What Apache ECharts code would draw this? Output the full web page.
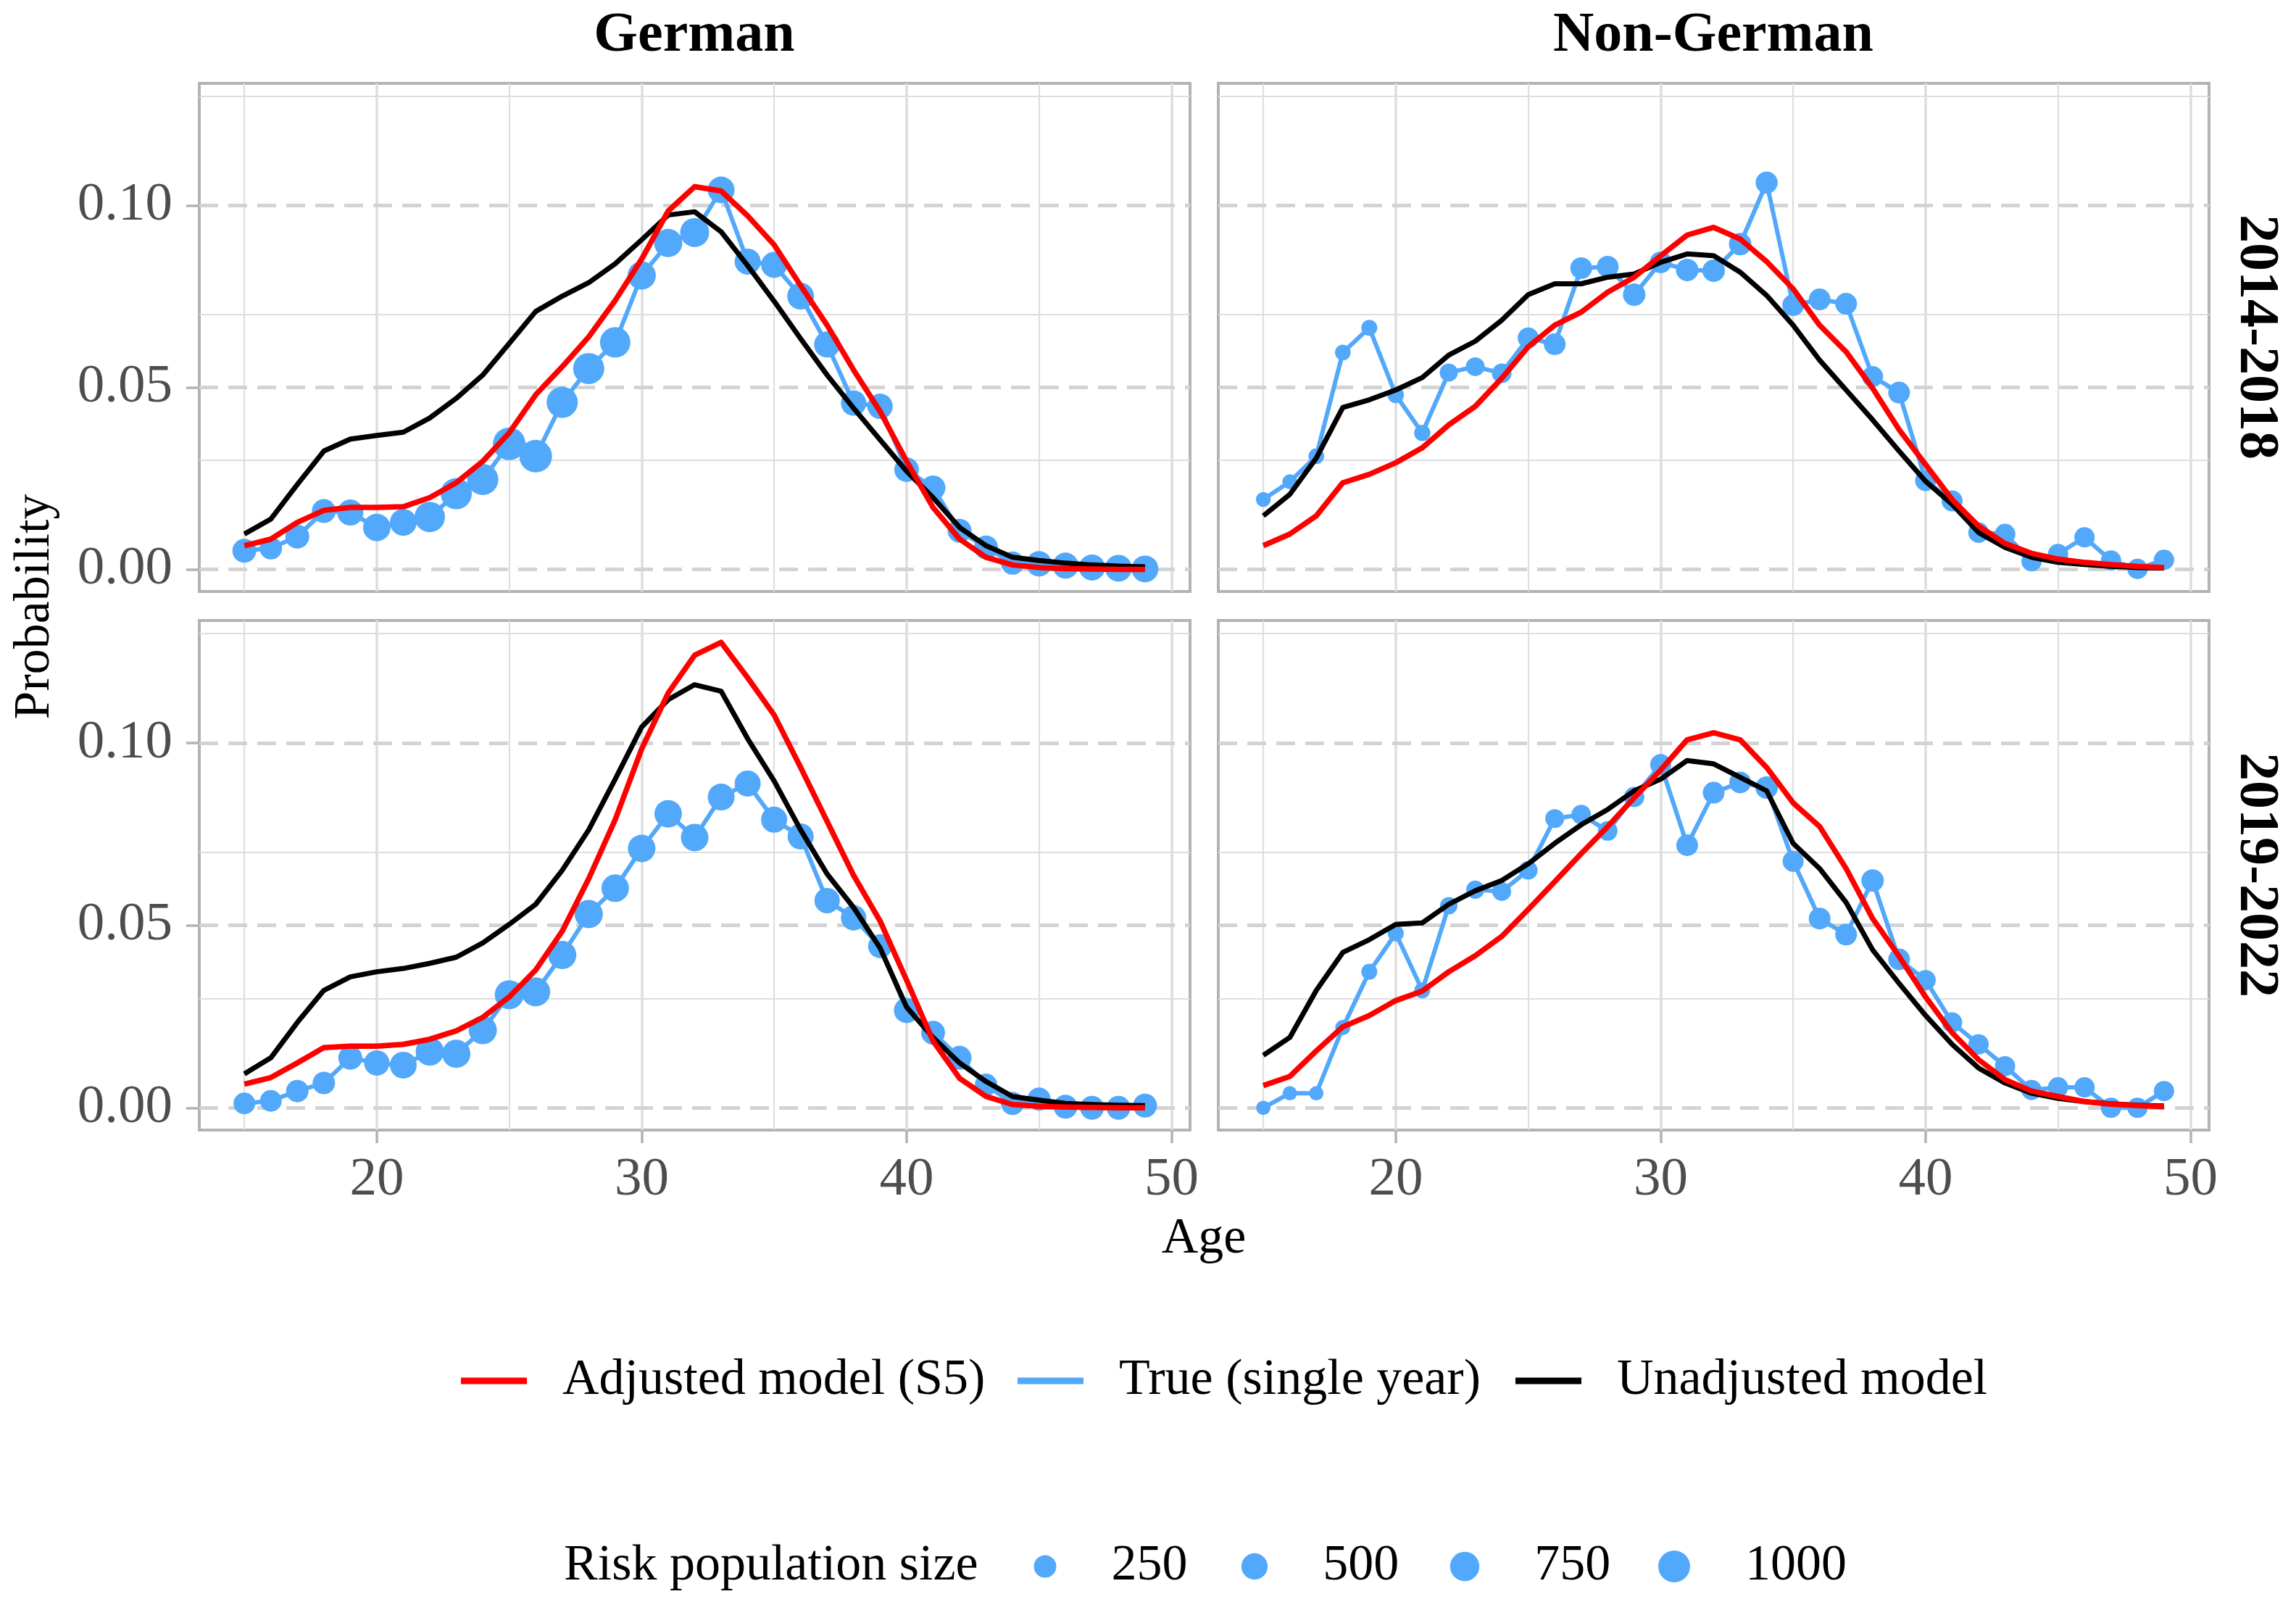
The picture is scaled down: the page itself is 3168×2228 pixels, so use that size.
<!DOCTYPE html>
<html><head><meta charset="utf-8">
<script src="https://cdn.jsdelivr.net/npm/echarts@6/dist/echarts.min.js"></script>
<style>html,body{margin:0;padding:0;background:#fff}#c{width:3168px;height:2228px}</style>
</head><body><div id="c"></div>
<script>
// ---------------- data ----------------
const ages = [15,16,17,18,19,20,21,22,23,24,25,26,27,28,29,30,31,32,33,34,35,36,37,38,39,40,41,42,43,44,45,46,47,48,49];

// German, 2014-2018
const g1True  = [0.0051,0.0058,0.0090,0.0160,0.0156,0.0115,0.0129,0.0144,0.0208,0.0247,0.0345,0.0311,0.0459,0.0552,0.0624,0.0808,0.0897,0.0926,0.1043,0.0846,0.0837,0.0751,0.0618,0.0457,0.0448,0.0274,0.0224,0.0106,0.0060,0.0017,0.0015,0.0010,0.0005,0.0003,0.0001];
const g1Adj   = [0.0065,0.0083,0.0129,0.0162,0.0170,0.0170,0.0172,0.0197,0.0238,0.0297,0.0375,0.0480,0.0557,0.0639,0.0739,0.0853,0.0985,0.1052,0.1040,0.0972,0.0892,0.0780,0.0671,0.0548,0.0434,0.0297,0.0170,0.0083,0.0033,0.0012,0.0005,0.0002,0.0001,0.0000,0.0000];
const g1Unadj = [0.0097,0.0138,0.0233,0.0325,0.0358,0.0368,0.0377,0.0416,0.0470,0.0534,0.0621,0.0709,0.0751,0.0788,0.0840,0.0906,0.0974,0.0983,0.0928,0.0835,0.0737,0.0634,0.0534,0.0443,0.0356,0.0270,0.0197,0.0115,0.0065,0.0033,0.0024,0.0017,0.0012,0.0009,0.0007];
const g1Pop   = [335,251,335,335,482,595,537,857,929,929,1084,1084,929,929,857,656,656,720,537,482,482,537,482,430,430,381,381,335,335,291,430,482,482,537,537];

// Non-German, 2014-2018
const n1True  = [0.0192,0.0241,0.0311,0.0596,0.0664,0.0479,0.0375,0.0541,0.0557,0.0539,0.0636,0.0619,0.0828,0.0832,0.0755,0.0844,0.0823,0.0821,0.0894,0.1063,0.0726,0.0742,0.0730,0.0530,0.0486,0.0244,0.0188,0.0101,0.0097,0.0022,0.0042,0.0088,0.0024,0.0001,0.0026];
const n1Adj   = [0.0065,0.0097,0.0147,0.0238,0.0261,0.0293,0.0334,0.0397,0.0448,0.0525,0.0612,0.0671,0.0707,0.0762,0.0803,0.0862,0.0919,0.0940,0.0908,0.0846,0.0771,0.0671,0.0598,0.0498,0.0384,0.0288,0.0192,0.0119,0.0071,0.0044,0.0028,0.0019,0.0013,0.0008,0.0005];
const n1Unadj = [0.0147,0.0206,0.0306,0.0445,0.0466,0.0493,0.0527,0.0589,0.0627,0.0685,0.0755,0.0785,0.0785,0.0803,0.0812,0.0844,0.0867,0.0862,0.0817,0.0753,0.0671,0.0575,0.0493,0.0411,0.0325,0.0242,0.0179,0.0101,0.0060,0.0033,0.0019,0.0013,0.0008,0.0005,0.0004];
const n1Pop   = [10,10,20,20,25,30,30,73,95,120,180,214,214,214,251,214,250,250,250,230,214,214,214,180,214,180,180,160,160,150,150,150,150,150,150];

// German, 2019-2022
const g2True  = [0.0012,0.0019,0.0046,0.0068,0.0137,0.0123,0.0117,0.0154,0.0148,0.0213,0.0310,0.0318,0.0419,0.0531,0.0602,0.0711,0.0806,0.0741,0.0852,0.0889,0.0790,0.0744,0.0568,0.0521,0.0443,0.0267,0.0206,0.0137,0.0063,0.0012,0.0024,0.0003,0.0000,0.0000,0.0006];
const g2Adj   = [0.0065,0.0083,0.0123,0.0165,0.0169,0.0169,0.0174,0.0188,0.0211,0.0248,0.0304,0.0378,0.0484,0.0628,0.0790,0.0984,0.1137,0.1241,0.1276,0.1179,0.1077,0.0933,0.0785,0.0637,0.0512,0.0350,0.0183,0.0081,0.0031,0.0009,0.0004,0.0002,0.0001,0.0000,0.0000];
const g2Unadj = [0.0093,0.0137,0.0234,0.0322,0.0359,0.0373,0.0382,0.0396,0.0413,0.0452,0.0503,0.0558,0.0651,0.0762,0.0901,0.1044,0.1119,0.1160,0.1142,0.1012,0.0896,0.0762,0.0641,0.0549,0.0438,0.0276,0.0193,0.0123,0.0072,0.0031,0.0021,0.0012,0.0009,0.0007,0.0006];
const g2Pop   = [214,214,251,251,335,430,537,656,656,656,720,720,656,656,595,595,595,595,537,482,482,482,430,430,335,430,335,335,251,291,291,335,335,335,335];

// Non-German, 2019-2022
const n2True  = [0.0000,0.0040,0.0040,0.0220,0.0373,0.0478,0.0322,0.0554,0.0598,0.0593,0.0651,0.0793,0.0804,0.0759,0.0852,0.0941,0.0720,0.0864,0.0892,0.0878,0.0676,0.0519,0.0475,0.0623,0.0407,0.0350,0.0234,0.0174,0.0114,0.0049,0.0056,0.0056,0.0000,0.0000,0.0046];
const n2Adj   = [0.0061,0.0086,0.0156,0.0222,0.0253,0.0294,0.0320,0.0373,0.0417,0.0470,0.0544,0.0620,0.0697,0.0771,0.0850,0.0926,0.1009,0.1028,0.1009,0.0933,0.0836,0.0771,0.0656,0.0519,0.0415,0.0304,0.0206,0.0132,0.0077,0.0046,0.0031,0.0017,0.0010,0.0006,0.0003];
const n2Unadj = [0.0144,0.0193,0.0322,0.0426,0.0461,0.0503,0.0507,0.0558,0.0595,0.0623,0.0669,0.0725,0.0776,0.0818,0.0869,0.0901,0.0952,0.0943,0.0906,0.0869,0.0725,0.0656,0.0563,0.0433,0.0341,0.0253,0.0174,0.0109,0.0068,0.0040,0.0026,0.0017,0.0011,0.0007,0.0005];
const n2Pop   = [5,5,5,13,24,24,24,54,73,95,90,100,120,120,149,180,214,214,214,251,180,214,214,251,214,149,149,149,149,149,149,149,149,149,149];

// ticks / labels
const xMajor = [20,30,40,50];
const xMinor = [15,25,35,45];
const yMajor = [0,0.05,0.10];
const yMinor = [0.025,0.075,0.125];
const colNames = ['German','Non-German'];
const rowNames = ['2014-2018','2019-2022'];
const seriesNames = ['Adjusted model (S5)','True (single year)','Unadjusted model'];
const sizeBreaks = [250,500,750,1000];
const sizeTitle = 'Risk population size';
const xTitle = 'Age';
const yTitle = 'Probability';

// ---------------- styling ----------------
const FONT = 'Liberation Serif';
const RED = '#FF0000', BLUE = '#52A8FA', BLACK = '#000000';
const sizeFn = p => 18 + 0.82 * Math.sqrt(p);

const panels = [
  {grid:{left:275, top:115, width:1367, height:701}, tru:g1True, adj:g1Adj, una:g1Unadj, pop:g1Pop, bottom:false, left:true},
  {grid:{left:1681, top:115, width:1367, height:701}, tru:n1True, adj:n1Adj, una:n1Unadj, pop:n1Pop, bottom:false, left:false},
  {grid:{left:275, top:856, width:1367, height:703}, tru:g2True, adj:g2Adj, una:g2Unadj, pop:g2Pop, bottom:true, left:true},
  {grid:{left:1681, top:856, width:1367, height:703}, tru:n2True, adj:n2Adj, una:n2Unadj, pop:n2Pop, bottom:true, left:false}
];

function gridLineData() {
  const d = [];
  xMinor.forEach(v => d.push({xAxis: v, lineStyle: {color:'#DEDEDE', width:2.2, type:'solid'}}));
  xMajor.forEach(v => d.push({xAxis: v, lineStyle: {color:'#DEDEDE', width:3.6, type:'solid'}}));
  yMinor.forEach(v => d.push({yAxis: v, lineStyle: {color:'#DEDEDE', width:2.2, type:'solid'}}));
  yMajor.forEach(v => d.push({yAxis: v, lineStyle: {color:'#D3D3D3', width:5, type:[26,14]}}));
  return d;
}

const grids = [], xAxes = [], yAxes = [], series = [];
panels.forEach((p, i) => {
  grids.push(Object.assign({show:true, borderColor:'#B3B3B3', borderWidth:4, backgroundColor:'#fff'}, p.grid));
  xAxes.push({
    type:'value', gridIndex:i, min:13.3, max:50.7,
    axisLine:{show:false, onZero:false},
    splitLine:{show:false},
    axisTick:{show:p.bottom, customValues:xMajor, length:18, lineStyle:{color:'#B3B3B3', width:3.5}},
    axisLabel:{show:p.bottom, customValues:xMajor, margin:32, fontFamily:FONT, fontSize:75, color:'#4D4D4D'}
  });
  yAxes.push({
    type:'value', gridIndex:i, min:-0.0061, max:0.1336,
    axisLine:{show:false, onZero:false},
    splitLine:{show:false},
    axisTick:{show:p.left, customValues:yMajor, length:18, lineStyle:{color:'#B3B3B3', width:3.5}},
    axisLabel:{show:p.left, customValues:yMajor, margin:37, fontFamily:FONT, fontSize:75, color:'#4D4D4D',
               formatter: v => v.toFixed(2)}
  });
  series.push({
    type:'line', xAxisIndex:i, yAxisIndex:i, data:[], silent:true, z:1,
    markLine:{silent:true, symbol:['none','none'], label:{show:false}, z:1, animation:false,
              emphasis:{disabled:true}, data:gridLineData()}
  });
  series.push({
    name:seriesNames[1], type:'line', xAxisIndex:i, yAxisIndex:i, z:10,
    data: ages.map((a,k) => [a, p.tru[k], p.pop[k]]),
    symbol:'circle', showSymbol:true, symbolSize: v => sizeFn(v[2]),
    itemStyle:{color:BLUE, opacity:1}, lineStyle:{color:BLUE, width:6, join:'round'},
    emphasis:{disabled:true}
  });
  series.push({
    name:seriesNames[2], type:'line', xAxisIndex:i, yAxisIndex:i, z:11,
    data: ages.map((a,k) => [a, p.una[k]]), symbol:'none', showSymbol:false,
    itemStyle:{color:BLACK}, lineStyle:{color:BLACK, width:7, join:'round'}, emphasis:{disabled:true}
  });
  series.push({
    name:seriesNames[0], type:'line', xAxisIndex:i, yAxisIndex:i, z:12,
    data: ages.map((a,k) => [a, p.adj[k]]), symbol:'none', showSymbol:false,
    itemStyle:{color:RED}, lineStyle:{color:RED, width:7.5, join:'round'}, emphasis:{disabled:true}
  });
});
// dummy series for size legend
sizeBreaks.forEach(b => series.push({name:String(b), type:'scatter', xAxisIndex:0, yAxisIndex:0, data:[],
  itemStyle:{color:BLUE, opacity:1}}));

const legTxt = {fontFamily:FONT, fontSize:70, color:'#000', lineHeight:80};
const legends = [];
const row1Left = [636, 1404, 2091];
seriesNames.forEach((n, k) => legends.push({
  data:[{name:n, icon:'rect'}], left:row1Left[k], top:1865, padding:0, itemWidth:91, itemHeight:9,
  selectedMode:false, textStyle:Object.assign({padding:[0,0,0,44]}, legTxt)
}));
const sizeCenters = [1442, 1731, 2021, 2310];
sizeBreaks.forEach((b, k) => {
  const d = sizeFn(b);
  legends.push({
    data:[{name:String(b), icon:'circle', itemStyle:{color:BLUE, opacity:1}}], left:sizeCenters[k] - d/2, top:2121, padding:0,
    itemWidth:d, itemHeight:d, selectedMode:false,
    textStyle:Object.assign({padding:[0,0,0,71]}, legTxt)
  });
});

const txt = (text, x, y, opts) => ({type:'text', x, y, rotation:(opts && opts.rot) || 0, silent:true,
  style:{text, fontFamily:FONT, fontSize:(opts && opts.size) || 70, fontWeight:(opts && opts.bold) ? 'bold' : 'normal',
         fill:'#000', align:(opts && opts.align) || 'center', verticalAlign:'middle'}});

const graphics = [
  txt(colNames[0], 958, 50, {size:78, bold:true}),
  txt(colNames[1], 2364, 50, {size:78, bold:true}),
  txt(rowNames[0], 3112, 465, {size:78, bold:true, rot:-Math.PI/2}),
  txt(rowNames[1], 3112, 1207, {size:78, bold:true, rot:-Math.PI/2}),
  txt(xTitle, 1661, 1710, {size:70}),
  txt(yTitle, 49, 837, {size:70, rot:Math.PI/2}),
  txt(sizeTitle, 778, 2161, {size:70, align:'left'})
];

const chart = echarts.init(document.getElementById('c'), null, {renderer:'canvas'});
chart.setOption({
  animation:false,
  backgroundColor:'#fff',
  grid:grids, xAxis:xAxes, yAxis:yAxes, series:series, legend:legends,
  graphic:graphics
});
</script></body></html>
